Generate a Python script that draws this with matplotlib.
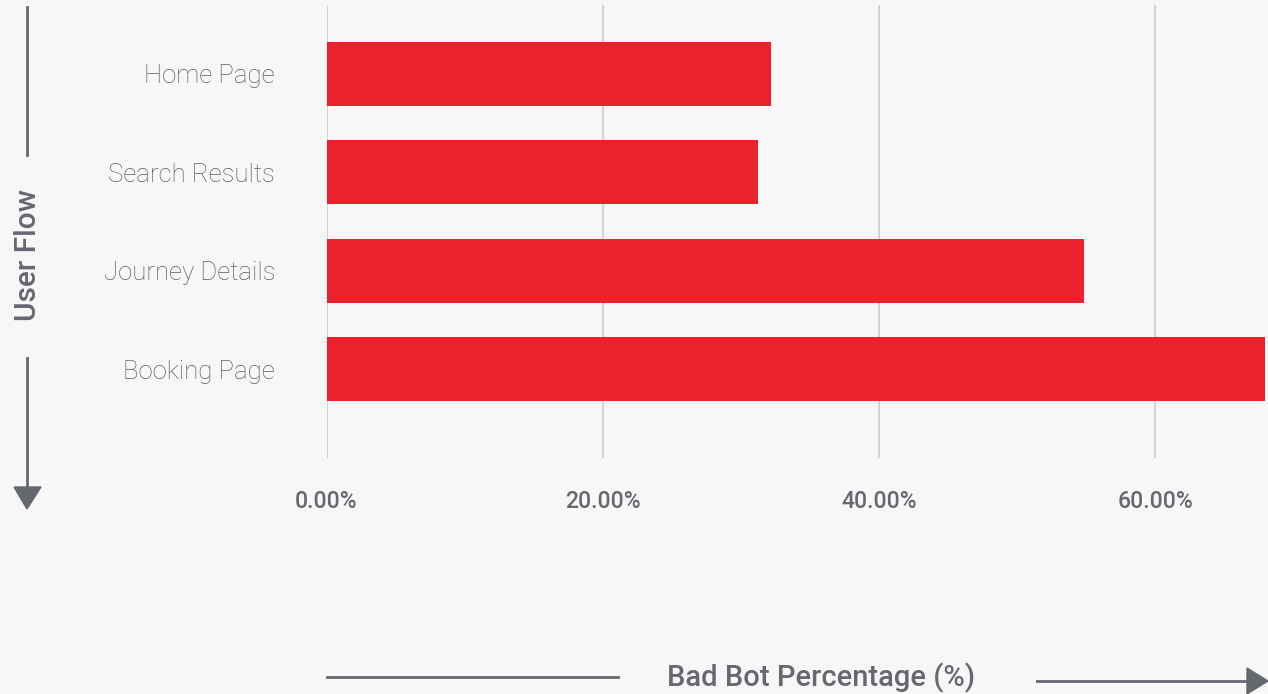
import matplotlib
matplotlib.use("Agg")
import matplotlib.pyplot as plt
from matplotlib.ticker import FuncFormatter

# ── data ──────────────────────────────────────────────────────────────────────
pages = ["Home Page", "Search Results", "Journey Details", "Booking Page"]
bad_bot_pct = [32.2, 31.2, 54.8, 67.9]
x_ticks = [0, 20, 40, 60]

BG = "#f7f7f7"
RED = "#ed212b"
GREY = "#666870"

W, H = 1268, 694
fig = plt.figure(figsize=(W / 100, H / 100), dpi=100, facecolor=BG)

# axes placed in pixel coords
left, right, top, bottom = 326.5, 1268, 5, 458
ax = fig.add_axes([left / W, 1 - bottom / H, (right - left) / W, (bottom - top) / H])
ax.set_facecolor("none")

ax.barh(range(len(pages)), bad_bot_pct, height=0.65, color=RED, zorder=3)
ax.set_xlim(0, 68.15)
ax.set_ylim(3.9, -0.7)

ax.set_xticks(x_ticks)
ax.xaxis.set_major_formatter(FuncFormatter(lambda v, _: f"{v:.2f}%"))
ax.set_yticks(range(len(pages)))
ax.set_yticklabels(pages, family="Roboto", fontweight="light", fontsize=18.5,
                   color="#5c5e66")
ax.tick_params(axis="y", length=0, pad=37)
ax.tick_params(axis="x", length=0, pad=23, labelsize=16.5, labelcolor=GREY)
for lab in ax.get_xticklabels():
    lab.set_family("Roboto")
    lab.set_fontweight("medium")

ax.grid(axis="x", color="#cccccc", linewidth=1.2, zorder=0)
for s in ax.spines.values():
    s.set_visible(False)

# ── axis titles with arrow lines (figure pixel coords) ───────────────────────
def px(x, y):
    return x / W, 1 - y / H

# x title
fig.text(*px(821, 678), "Bad Bot Percentage (%)", ha="center", va="center",
         family="Roboto", fontweight="medium", fontsize=21, color=GREY)
fig.add_artist(plt.Line2D(*zip(px(327, 677), px(618, 677)), color=GREY, lw=2))
fig.add_artist(plt.Line2D(*zip(px(1037, 681), px(1252, 681)), color=GREY, lw=2))
fig.patches.append(plt.Polygon([px(1247, 668), px(1247, 694), px(1268, 681)],
                               closed=True, color=GREY, transform=fig.transFigure, figure=fig))

# y title
fig.text(*px(28, 255), "User Flow", ha="center", va="center", rotation=90,
         family="Roboto", fontweight="medium", fontsize=21.5, color=GREY)
fig.add_artist(plt.Line2D(*zip(px(27, 7), px(27, 155)), color=GREY, lw=2))
fig.add_artist(plt.Line2D(*zip(px(27, 358), px(27, 492)), color=GREY, lw=2))
fig.patches.append(plt.Polygon([px(14, 487), px(41, 487), px(27, 509)],
                               closed=True, color=GREY, transform=fig.transFigure, figure=fig))

fig.savefig("out.png", dpi=100, facecolor=BG)
